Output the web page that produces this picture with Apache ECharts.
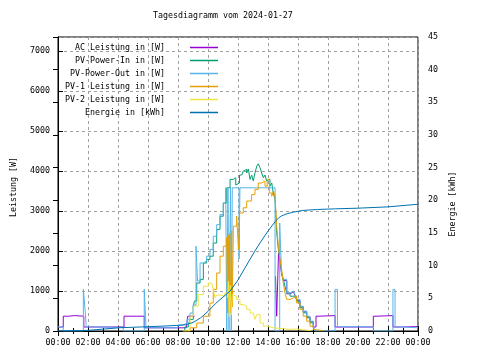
<!DOCTYPE html>
<html>
<head>
<meta charset="utf-8">
<script src="https://cdn.jsdelivr.net/npm/echarts@6/dist/echarts.min.js"></script>
<style>html,body{margin:0;padding:0;background:#fff}#c{width:480px;height:360px}</style>
</head>
<body>
<div id="c"></div>
<script>
// ---- data (time in hours of day) ----
const titleText = "Tagesdiagramm vom 2024-01-27";
const seriesNames = ["AC Leistung in [W]", "PV-Power-In in [W]", "PV-Power-Out in [W]", "PV-1 Leistung in [W]", "PV-2 Leistung in [W]", "Energie in [kWh]"];

// AC power: null where the trace is hidden under the PV curves in the source picture
const acTime = [0, 0.35, 0.7, 1.1, 1.72, 4.4, 5.75, 8.55, 8.65, 9.1, 9.13, 14.5, 14.58, 14.7, 14.8, 14.91, 15.02, 15.25, 15.47, 15.69, 15.8, 15.91, 16.13, 16.35, 16.58, 16.8, 17.02, 17.2, 17.35, 18.47, 21.02, 21.2, 22.33, 22.9, 24];
const acValues = [100, 370, 385, 370, 100, 370, 80, 120, 370, 370, null, 1370, 370, 1950, 1750, 1420, 1260, 930, 980, 1000, 890, 770, 600, 480, 350, 230, 100, 370, 385, 100, 370, 385, 100, 110, 100];

const pvInTime = [8.3, 8.45, 8.69, 8.8, 9.02, 9.1, 9.25, 9.47, 9.69, 9.91, 10.13, 10.35, 10.58, 10.8, 11.02, 11.25, 11.47, 11.69, 11.85, 11.91, 12.1, 12.25, 12.35, 12.47, 12.58, 12.69, 12.8, 12.91, 13.02, 13.13, 13.25, 13.35, 13.47, 13.58, 13.69, 13.8, 13.91, 14.02, 14.13, 14.25, 14.35, 14.47, 14.58, 14.69, 14.8, 14.91, 15.02, 15.13, 15.25, 15.47, 15.69, 15.8, 15.91, 16.13, 16.35, 16.58, 16.8, 17.02, 17.13];
const pvInValues = [0, 100, 160, 290, 620, 750, 1200, 1290, 1700, 1790, 1870, 2200, 2540, 2870, 3200, 3580, 3790, 3830, 3650, 3700, 3900, 3950, 4000, 4040, 3950, 4050, 3790, 3900, 3750, 3950, 4120, 4180, 4080, 3950, 3830, 3900, 3750, 3800, 3620, 3700, 3450, 3290, 2460, 2040, 1790, 1450, 1290, 1120, 950, 870, 910, 870, 745, 580, 455, 330, 205, 80, 0];

const pvOutTime = [0, 0.35, 1.69, 1.8, 1.88, 2.5, 4.35, 5.75, 5.87, 8.0, 8.33, 8.6, 8.8, 9.0, 9.2, 9.3, 9.47, 9.69, 9.91, 10.13, 10.35, 10.58, 10.8, 11.02, 11.18, 11.25, 11.33, 11.4, 11.5, 11.55, 11.62, 12.07, 12.13, 14.47, 14.78, 14.9, 15.02, 15.25, 15.47, 15.69, 15.8, 15.91, 16.13, 16.35, 16.58, 16.8, 17.02, 17.13, 18.47, 18.63, 21.02, 22.33, 22.47, 22.67, 24];
const pvOutValues = [105, 0, 1040, 560, 105, 90, 0, 1040, 80, 150, 200, 290, 450, 650, 2120, 1250, 1700, 1750, 1870, 2040, 2370, 2660, 2910, 3200, 3580, 0, 3580, 0, 3580, 0, 3580, 1800, 3580, 0, 2700, 1450, 1290, 950, 1000, 1020, 910, 790, 620, 500, 370, 245, 120, 0, 1040, 105, 0, 1040, 105, 80, 80];

const pv1Time = [8.4, 8.8, 9.25, 9.69, 10.13, 10.35, 10.58, 10.8, 11.02, 11.25, 11.31, 11.36, 11.4, 11.45, 11.5, 11.58, 11.62, 11.69, 11.91, 12.03, 12.1, 12.35, 12.58, 12.91, 13.13, 13.35, 13.58, 13.8, 13.95, 14.09, 14.25, 14.35, 14.47, 14.58, 14.69, 14.8, 14.91, 15.02, 15.13, 15.25, 15.47, 15.69, 15.91, 16.13, 16.35, 16.58, 16.8, 17.02, 17.13, 17.67];
const pv1Values = [0, 80, 200, 370, 700, 1040, 1450, 1870, 2120, 2330, 450, 2400, 500, 2450, 450, 2500, 600, 2620, 2870, 2040, 2950, 3080, 3250, 3410, 3540, 3700, 3750, 3620, 3790, 3450, 3370, 3500, 3370, 2620, 2120, 1790, 1540, 1200, 950, 790, 830, 870, 700, 540, 370, 245, 120, 40, 10, 0];

const pv2Time = [8.3, 8.8, 9.02, 9.35, 9.69, 10.02, 10.24, 10.35, 10.47, 10.58, 10.8, 11.13, 11.31, 11.36, 11.42, 11.48, 11.55, 11.62, 11.69, 11.91, 12.13, 12.35, 12.58, 12.8, 13.02, 13.13, 13.25, 13.47, 13.69, 13.91, 14.35, 15.47, 15.91, 16.35, 16.85];
const pv2Values = [0, 370, 620, 910, 1120, 1200, 1250, 1040, 830, 900, 870, 950, 830, 1250, 350, 1150, 400, 900, 870, 790, 660, 620, 540, 450, 420, 290, 410, 200, 120, 80, 40, 50, 30, 10, 0];

const energyTime = [0, 2.0, 2.8, 4.13, 5.93, 7.0, 7.93, 8.5, 9.0, 9.5, 10.0, 10.5, 11.0, 11.47, 12.0, 12.5, 13.13, 13.5, 14.0, 14.5, 14.7, 14.9, 15.2, 15.7, 16.3, 17.3, 18.5, 20.0, 21.0, 22.0, 23.0, 24.0];
const energyValues = [0, 0.1, 0.25, 0.5, 0.65, 0.75, 0.85, 0.95, 1.3, 2.0, 3.0, 4.2, 5.2, 6.1, 7.8, 9.8, 12.25, 13.6, 15.3, 16.8, 17.3, 17.6, 17.9, 18.2, 18.45, 18.6, 18.7, 18.8, 18.9, 19.0, 19.2, 19.4];

// ---- build ----
const zip = (t, v) => t.map((x, i) => [x, v[i] === null ? null : v[i]]);
const colors = ['#9400d3', '#009e73', '#56b4e9', '#e69f00', '#f0e442', '#0072b2'];
const FONT = 'DejaVu Sans Mono';
const FS = 8.3;
const pad2 = n => (n < 10 ? '0' : '') + n;

const mk = (i, data, yIdx, step) => ({
  name: seriesNames[i], type: 'line', data: data, step: step, yAxisIndex: yIdx,
  showSymbol: false, symbol: 'none', connectNulls: false, lineStyle: { width: 1, color: colors[i] },
  itemStyle: { color: colors[i] }, animation: false, clip: true
});

const chart = echarts.init(document.getElementById('c'), null, { renderer: 'canvas' });
chart.setOption({
  animation: false,
  backgroundColor: '#fff',
  title: { text: titleText, left: 153, top: 12, padding: 0,
    textStyle: { fontFamily: FONT, fontSize: FS, fontWeight: 'normal', color: '#000' } },
  grid: { left: 58, right: 62, top: 37, bottom: 29, show: true, borderColor: '#000', borderWidth: 1, backgroundColor: 'transparent' },
  legend: {
    orient: 'vertical', right: 262, top: 41, padding: 0, itemGap: 0, align: 'right',
    itemWidth: 28, itemHeight: 1.5, icon: 'rect',
    formatter: n => n + '    ',
    textStyle: { fontFamily: FONT, fontSize: FS, color: '#000', lineHeight: 13 },
    data: seriesNames
  },
  xAxis: [{
    type: 'value', min: 0, max: 24, interval: 2, position: 'bottom',
    axisLine: { lineStyle: { color: '#000', width: 1 } },
    axisTick: { inside: true, length: 5, lineStyle: { color: '#000' } },
    minorTick: { show: true, splitNumber: 2, length: 3, lineStyle: { color: '#000' } },
    axisLabel: { fontFamily: FONT, fontSize: FS, color: '#000', margin: 8,
      formatter: v => pad2(Math.round(v) % 24) + ':00' },
    splitLine: { show: true, lineStyle: { color: '#a0a0a0', type: [3, 3], width: 1 } }
  }, {
    type: 'value', min: 0, max: 24, interval: 2, position: 'top',
    axisLine: { lineStyle: { color: '#000', width: 1 } },
    axisTick: { inside: true, length: 5, lineStyle: { color: '#000' } },
    minorTick: { show: true, splitNumber: 2, length: 3, lineStyle: { color: '#000' } },
    axisLabel: { show: false }, splitLine: { show: false }
  }],
  yAxis: [{
    type: 'value', min: 0, max: 7350, interval: 1000, position: 'left',
    name: 'Leistung [W]', nameLocation: 'middle', nameGap: 40, nameRotate: 90,
    nameTextStyle: { fontFamily: FONT, fontSize: FS, color: '#000', padding: [0, 6, 0, 0] },
    axisLine: { show: true, lineStyle: { color: '#000', width: 1 } },
    axisTick: { show: true, inside: true, length: 5, lineStyle: { color: '#000' } },
    axisLabel: { fontFamily: FONT, fontSize: FS, color: '#000', margin: 8, showMaxLabel: false,
      formatter: v => String(v) },
    splitLine: { show: true, lineStyle: { color: '#a0a0a0', type: [3, 3], width: 1 } }
  }, {
    type: 'value', min: 0, max: 45, interval: 5, position: 'right',
    name: 'Energie [kWh]', nameLocation: 'middle', nameGap: 21, nameRotate: 90,
    nameTextStyle: { fontFamily: FONT, fontSize: FS, color: '#000', padding: [0, 40, 0, 0] },
    axisLine: { show: true, lineStyle: { color: '#000', width: 1 } },
    axisTick: { show: true, inside: true, length: 5, lineStyle: { color: '#000' } },
    axisLabel: { fontFamily: FONT, fontSize: FS, color: '#000', margin: 10, formatter: v => String(v) },
    splitLine: { show: false }
  }],
  series: [
    mk(0, zip(acTime, acValues), 0, 'end'),
    mk(1, zip(pvInTime, pvInValues), 0, 'end'),
    mk(2, zip(pvOutTime, pvOutValues), 0, 'end'),
    mk(3, zip(pv1Time, pv1Values), 0, 'end'),
    mk(4, zip(pv2Time, pv2Values), 0, 'end'),
    mk(5, zip(energyTime, energyValues), 1, false)
  ]
});
</script>
</body>
</html>
